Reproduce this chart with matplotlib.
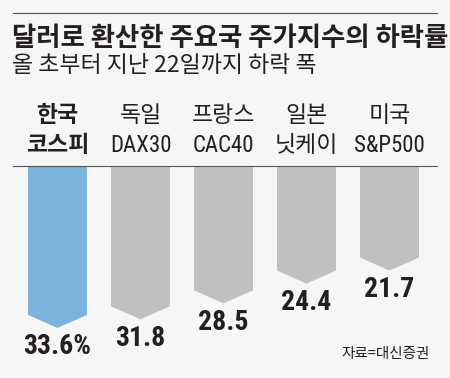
import matplotlib
matplotlib.use("Agg")
import matplotlib.pyplot as plt
from matplotlib.lines import Line2D
from matplotlib import font_manager as fm

# ---- data ----
line1 = ["한국", "독일", "프랑스", "일본", "미국"]
line2 = ["코스피", "DAX30", "CAC40", "닛케이", "S&P500"]
values = [33.6, 31.8, 28.5, 24.4, 21.7]
value_labels = ["33.6%", "31.8", "28.5", "24.4", "21.7"]
title = "달러로 환산한 주요국 주가지수의 하락률"
subtitle = "올 초부터 지난 22일까지 하락 폭"
source = "자료=대신증권"

BG = "#f6f6f6"
BLUE = "#7ab4dc"
GRAY = "#c0c0c0"
TXT = "#231f20"

names = {f.name for f in fm.fontManager.ttflist}
narrow = next((n for n in ["Roboto Condensed", "Archivo Narrow", "Liberation Sans Narrow",
                           "Barlow Semi Condensed", "Asap Condensed"] if n in names), "DejaVu Sans")
FAM = [narrow, "Noto Sans CJK KR", "DejaVu Sans"]
KFAM = ["Noto Sans CJK KR", "DejaVu Sans"]

W, H = 450, 378
fig = plt.figure(figsize=(W / 100, H / 100), dpi=100, facecolor=BG)

def fx(px):
    return px / W

def fy(py):
    return 1 - py / H

# rules
fig.add_artist(Line2D([fx(13), fx(437)], [fy(13), fy(13)], color="#555555", lw=0.8))
fig.add_artist(Line2D([fx(13), fx(437)], [fy(166), fy(166)], color="#555555", lw=0.8))

fig.text(fx(12), fy(39), title, family=KFAM, fontsize=19, fontweight="bold",
         color=TXT, va="center", ha="left")
fig.text(fx(12), fy(65), subtitle, family=KFAM, fontsize=16.5, color=TXT,
         va="center", ha="left")

# bars axes: 4.82 px per unit
pxu = 4.82
Y = 40
ax_top = 166
ax_h = Y * pxu
ax = fig.add_axes([fx(16), fy(ax_top + ax_h), fx(415), ax_h / H])
ax.set_xlim(-0.5, 4.5)
ax.set_ylim(-Y, 0)
ax.axis("off")
ax.patch.set_alpha(0)

bw = 0.71
tip = 13 / pxu
for i, v in enumerate(values):
    c = BLUE if i == 0 else GRAY
    xs = [i - bw / 2, i + bw / 2, i + bw / 2, i, i - bw / 2]
    ys = [0, 0, -(v - tip), -v, -(v - tip)]
    ax.fill(xs, ys, color=c, lw=0)
    ax.text(i, -v - 19 / pxu, value_labels[i], family=FAM, fontsize=20,
            fontweight="bold", color=TXT, ha="center", va="center")

# category labels
centers = [57.5, 140.5, 223.5, 306.5, 389.5]
for i, (a, b) in enumerate(zip(line1, line2)):
    wt = "bold" if i == 0 else "normal"
    fig.text(fx(centers[i]), fy(116), a, family=FAM, fontsize=16.5, fontweight=wt,
             color=TXT, ha="center", va="center")
    fig.text(fx(centers[i]), fy(146), b, family=FAM, fontsize=16.5, fontweight=wt,
             color=TXT, ha="center", va="center")

fig.text(fx(430), fy(354), source, family=KFAM, fontsize=10.5, color=TXT,
         ha="right", va="center")

fig.savefig("out.png", dpi=100, facecolor=BG)
